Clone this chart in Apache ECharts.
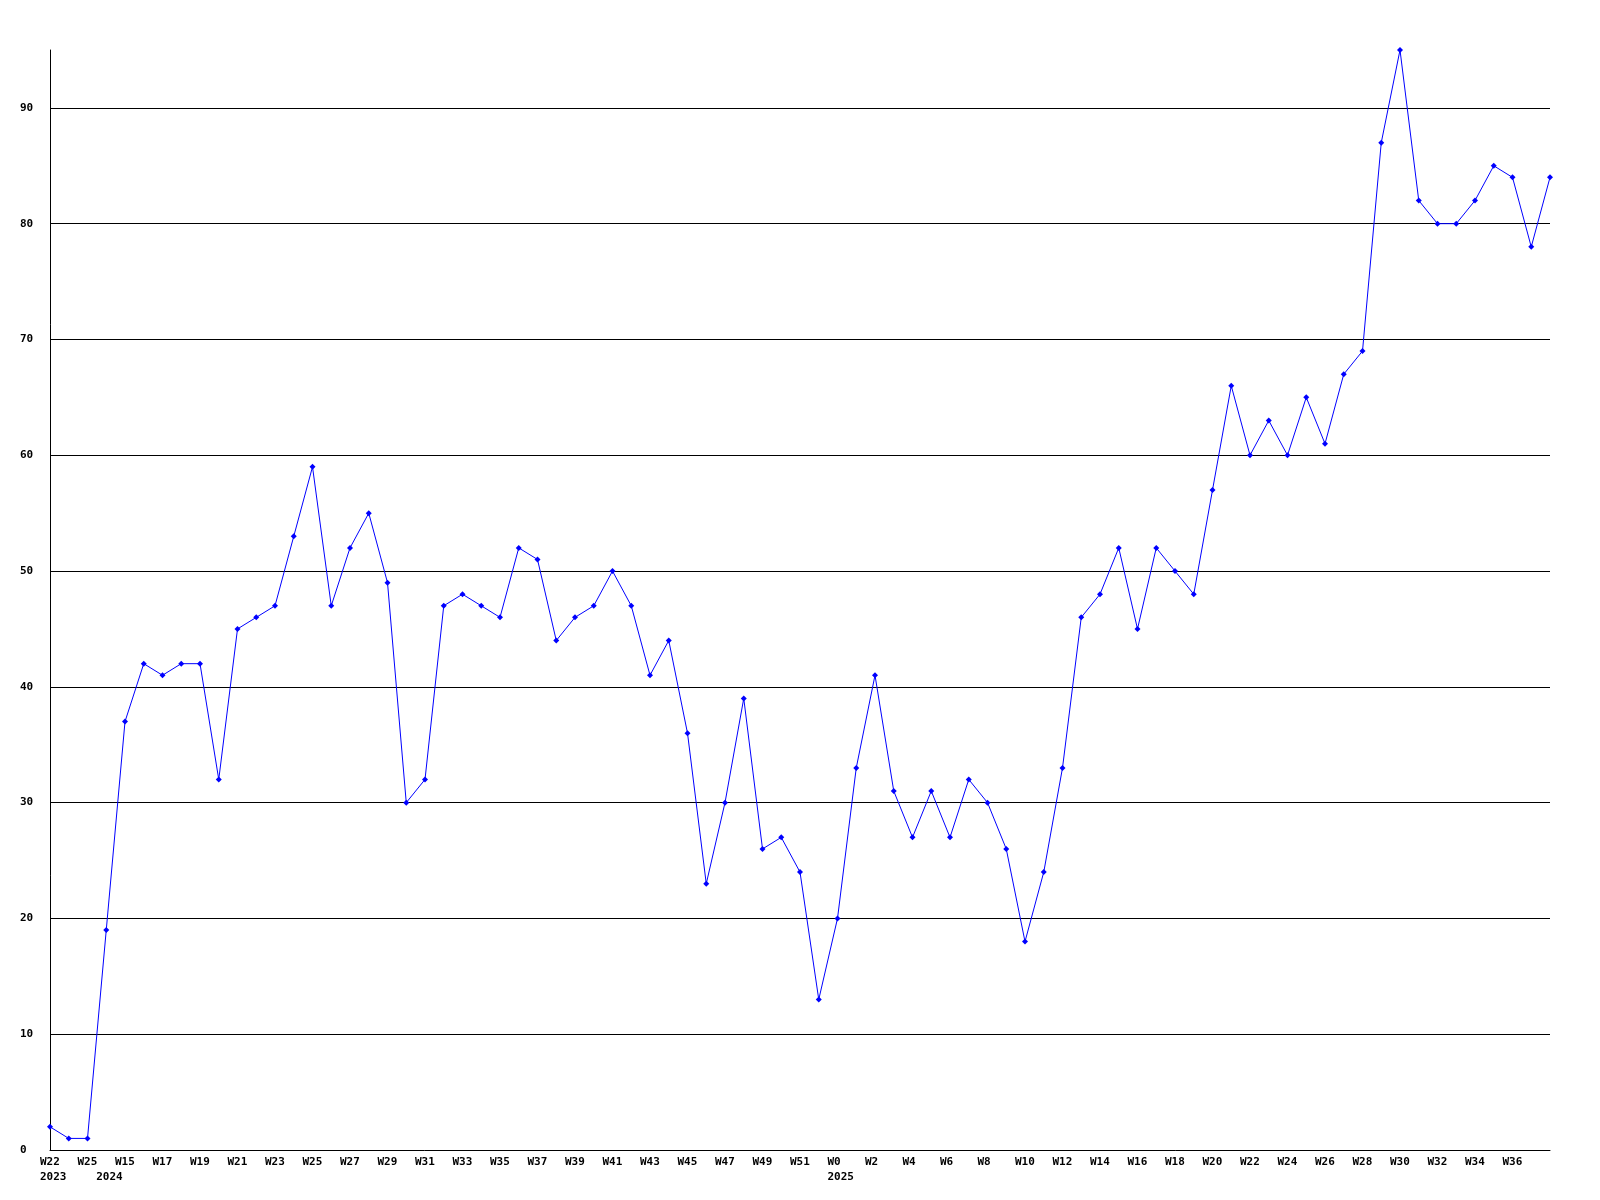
<!DOCTYPE html>
<html>
<head>
<meta charset="utf-8">
<script src="https://cdn.jsdelivr.net/npm/echarts@6/dist/echarts.min.js"></script>
<style>
  html, body { margin: 0; padding: 0; background: #fff; }
  #chart { width: 1600px; height: 1200px; }
</style>
</head>
<body>
<div id="chart"></div>
<script>
// week labels, split per year
const weeks2023 = ['W22', 'W24', 'W25']
const weeks2024 = ['W14', 'W15', 'W16', 'W17', 'W18', 'W19', 'W20', 'W21', 'W22', 'W23', 'W24', 'W25', 'W26',
  'W27', 'W28', 'W29', 'W30', 'W31', 'W32', 'W33', 'W34', 'W35', 'W36', 'W37', 'W38', 'W39', 'W40',
  'W41', 'W42', 'W43', 'W44', 'W45', 'W46', 'W47', 'W48', 'W49', 'W50', 'W51', 'W52']
const weeks2025 = ['W0', 'W1', 'W2', 'W3', 'W4', 'W5', 'W6', 'W7', 'W8', 'W9', 'W10', 'W11', 'W12',
  'W13', 'W14', 'W15', 'W16', 'W17', 'W18', 'W19', 'W20', 'W21', 'W22', 'W23', 'W24', 'W25', 'W26',
  'W27', 'W28', 'W29', 'W30', 'W31', 'W32', 'W33', 'W34', 'W35', 'W36', 'W37', 'W38']
const years = ['2023', '2024', '2025']

const values = [
  2, 1, 1,
  19, 37, 42, 41, 42, 42, 32, 45, 46, 47, 53, 59, 47,
  52, 55, 49, 30, 32, 47, 48, 47, 46, 52, 51, 44, 46,
  47, 50, 47, 41, 44, 36, 23, 30, 39, 26, 27, 24, 13,
  20, 33, 41, 31, 27, 31, 27, 32, 30, 26, 18, 24, 33,
  46, 48, 52, 45, 52, 50, 48, 57, 66, 60, 63, 60, 65,
  61, 67, 69, 87, 95, 82, 80, 80, 82, 85, 84, 78, 84
]

const gridValues = [10, 20, 30, 40, 50, 60, 70, 80, 90]

const categories = [...weeks2023, ...weeks2024, ...weeks2025]
const yearStarts = [0, weeks2023.length, weeks2023.length + weeks2024.length]

const FONT = 'DejaVu Sans Mono'
const labelStyle = { color: '#000', fontFamily: FONT, fontWeight: 'bold', fontSize: 11 }
// x labels start 10px left of their tick
const xLabelStyle = { ...labelStyle, align: 'left', padding: [0, 0, 0, -10] }

const chart = echarts.init(document.getElementById('chart'))
chart.setOption({
  animation: false,
  backgroundColor: '#fff',
  grid: { left: 50, right: 50, top: 50, bottom: 50 },
  xAxis: [
    {
      type: 'category',
      boundaryGap: false,
      data: categories,
      axisLine: { show: true, lineStyle: { color: '#000', width: 1 } },
      axisTick: { show: false },
      axisLabel: { ...xLabelStyle, interval: 1, margin: 7, showMaxLabel: false }
    },
    {
      type: 'category',
      position: 'bottom',
      offset: 15,
      boundaryGap: false,
      data: categories,
      axisLine: { show: false },
      axisTick: { show: false },
      axisLabel: {
        ...xLabelStyle,
        margin: 7,
        interval: (i) => yearStarts.includes(i),
        formatter: (v, i) => {
          const k = yearStarts.indexOf(i)
          return k >= 0 ? years[k] : ''
        }
      }
    }
  ],
  yAxis: {
    type: 'value',
    min: 0,
    max: 95,
    interval: 10,
    axisLine: { show: true, lineStyle: { color: '#000', width: 1 } },
    axisTick: { show: false },
    splitLine: { show: false },
    axisLabel: { ...labelStyle, align: 'left', margin: 30, showMaxLabel: false }
  },
  series: [
    {
      type: 'line',
      data: values,
      symbol: 'diamond',
      symbolSize: 6,
      showAllSymbol: true,
      lineStyle: { color: '#0000ff', width: 1 },
      itemStyle: { color: '#0000ff' },
      z: 3,
      markLine: {
        silent: true,
        symbol: ['none', 'none'],
        label: { show: false },
        lineStyle: { color: '#000', width: 1, type: 'solid' },
        z: 1,
        data: gridValues.map(v => ({ yAxis: v }))
      }
    }
  ]
})
</script>
</body>
</html>
